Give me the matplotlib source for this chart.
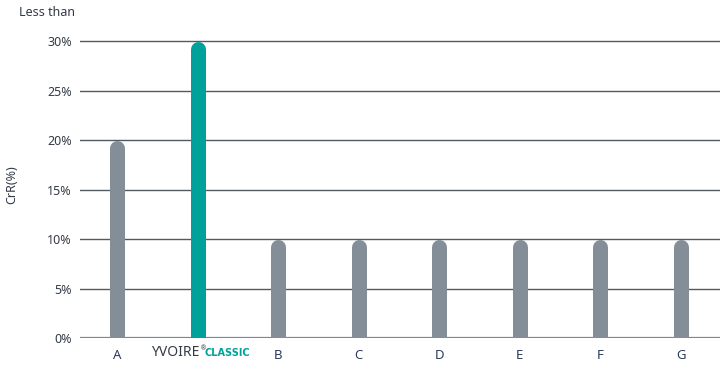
import matplotlib.pyplot as plt
from matplotlib.lines import Line2D

categories = ["A", "YVOIRE CLASSIC", "B", "C", "D", "E", "F", "G"]
values = [20, 30, 10, 10, 10, 10, 10, 10]
highlight = "YVOIRE CLASSIC"
yticks = [0, 5, 10, 15, 20, 25, 30]

GRAY = "#838e99"
TEAL = "#00a19a"
GRID = "#4f5a64"
TEXT = "#333a44"

plt.rcParams["font.family"] = ["Noto Sans", "DejaVu Sans"]

fig = plt.figure(figsize=(7.28, 3.70), dpi=100)
ax = fig.add_axes([80 / 728, 1 - 338 / 370, 640 / 728, (338 - 41) / 370 * 31 / 30])
ax.set_xlim(-0.46, 7.49)
ax.set_ylim(0, 31)

for y in yticks[1:]:
    ax.axhline(y, color=GRID, lw=1.0, zorder=1)
ax.axhline(0, color="#7d8791", lw=1.6, zorder=1)

# rounded-top bars: thick line with round caps, bottom cap clipped by axes
bar_px = 15
px_per_unit = (338 - 41) / 30.0
r = (bar_px / 2) / px_per_unit
lw_pt = bar_px * 72 / fig.dpi
for i, (cat, v) in enumerate(zip(categories, values)):
    c = TEAL if cat == highlight else GRAY
    ax.add_line(Line2D([i, i], [-5, v - r], color=c, lw=lw_pt,
                       solid_capstyle="round", zorder=3))

for s in ax.spines.values():
    s.set_visible(False)
ax.set_yticks(yticks)
ax.set_yticklabels([f"{t}%" for t in yticks], color=TEXT, fontsize=9)
ax.set_xticks(range(len(categories)))
ax.set_xticklabels([c if c != highlight else "" for c in categories],
                   color="#2b3b5c", fontsize=9.5)
ax.tick_params(length=0, axis="y", pad=6)
ax.tick_params(length=0, axis="x", pad=8)

hi = categories.index(highlight)
ax.annotate("YVOIRE", xy=(hi, 0), xycoords="data", xytext=(2, -15),
            textcoords="offset pixels", ha="right", va="center",
            fontsize=10, color=TEXT)
ax.annotate("®", xy=(hi, 0), xycoords="data", xytext=(3, -11),
            textcoords="offset pixels", ha="left", va="center",
            fontsize=4.5, color=TEXT)
ax.annotate("CLASSIC", xy=(hi, 0), xycoords="data", xytext=(7, -15),
            textcoords="offset pixels", ha="left", va="center",
            fontsize=7, fontweight="bold", color=TEAL,
            family="DejaVu Sans")

fig.text(12 / 728, 1 - 185 / 370, "CrR(%)", rotation=90, ha="center",
         va="center", fontsize=9, color=TEXT)
fig.text(75 / 728, 1 - 12 / 370, "Less than", ha="right", va="center",
         fontsize=9, color=TEXT)

fig.savefig("out.png", dpi=100, facecolor="white")
